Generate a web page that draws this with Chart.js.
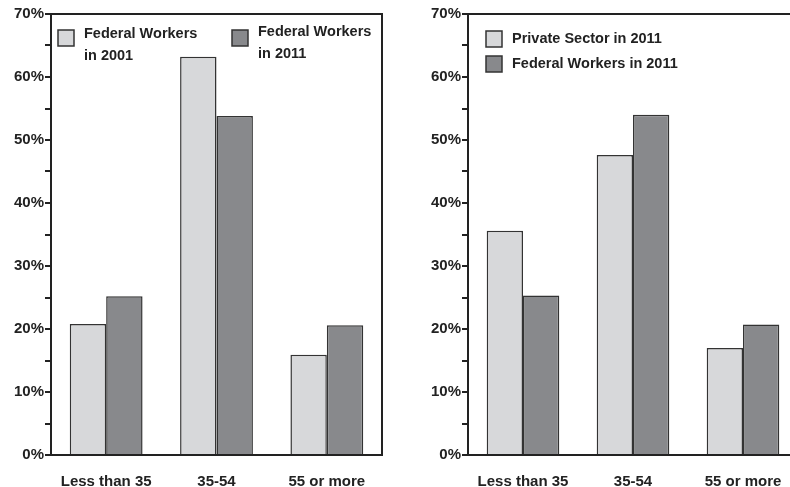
<!DOCTYPE html>
<html>
<head>
<meta charset="utf-8">
<script src="https://cdn.jsdelivr.net/npm/chart.js@4/dist/chart.umd.min.js"></script>
<style>
  html, body { margin: 0; padding: 0; background: #fff; overflow: hidden; }
  #wrap { position: relative; width: 790px; height: 487px; overflow: hidden; }
  #leftBox { position: absolute; left: 0; top: 0; }
  #rightBox { position: absolute; left: 400px; top: 0; }
</style>
</head>
<body>
<div id="wrap">
  <div id="leftBox"><canvas id="leftChart" width="395" height="487"></canvas></div>
  <div id="rightBox"><canvas id="rightChart" width="410" height="487"></canvas></div>
</div>
<script>
// data
const categories = ['Less than 35', '35-54', '55 or more'];
const yTicks = [0, 10, 20, 30, 40, 50, 60, 70];

const leftNames = ['Federal Workers in 2001', 'Federal Workers in 2011'];
const federal2001 = [20.8, 63.2, 15.9];
const federal2011 = [25.2, 53.8, 20.6];

const rightNames = ['Private Sector in 2011', 'Federal Workers in 2011'];
const private2011 = [35.6, 47.6, 17.0];
const federal2011b = [25.3, 54.0, 20.7];

const LIGHT = '#d7d8da', DARK = '#88898c', INK = '#222';
const FONT = '"Liberation Sans", Arial, sans-serif';

// frame lines (top / right) around the plot
const framePlugin = {
  id: 'frame',
  afterDraw(chart, args, opts){
    const { ctx, chartArea: a } = chart;
    ctx.save();
    ctx.strokeStyle = INK; ctx.lineWidth = 2;
    ctx.beginPath();
    ctx.moveTo(a.left, a.top); ctx.lineTo(opts.right ? a.right : chart.width, a.top);
    if(opts.right){ ctx.lineTo(a.right, a.bottom); }
    ctx.stroke();
    ctx.restore();
  }
};

// legend drawn inside the plot
const boxLegend = {
  id: 'boxLegend',
  afterDraw(chart, args, opts){
    const { ctx, chartArea: a } = chart;
    ctx.save();
    ctx.font = 'bold 14.5px ' + FONT;
    ctx.textBaseline = 'middle';
    chart.data.datasets.forEach((ds, i) => {
      const it = opts.items[i];
      const bx = a.left + it.x, by = a.top + it.y;
      ctx.fillStyle = ds.backgroundColor;
      ctx.fillRect(bx, by, 16, 16);
      ctx.strokeStyle = '#333'; ctx.lineWidth = 1.5;
      ctx.strokeRect(bx, by, 16, 16);
      const lines = opts.wrap ? ds.label.split(/ (?=in )/) : [ds.label];
      ctx.fillStyle = INK;
      lines.forEach((t, k) => ctx.fillText(t, bx + 26, by + it.dy + k * 22));
    });
    ctx.restore();
  }
};

function makeChart(id, names, s1, s2, yWidth, padRight, legendOpts, frameRight){
  return new Chart(document.getElementById(id), {
    type: 'bar',
    data: {
      labels: categories,
      datasets: [
        { label: names[0], data: s1, backgroundColor: LIGHT, borderColor: '#333', borderWidth: 1.5 },
        { label: names[1], data: s2, backgroundColor: DARK, borderColor: '#333', borderWidth: 1.5 }
      ]
    },
    options: {
      responsive: false,
      animation: false,
      events: [],
      layout: { padding: { top: 14, right: padRight, left: 0, bottom: 0 } },
      datasets: { bar: { categoryPercentage: 0.66, barPercentage: 1.0 } },
      plugins: {
        legend: { display: false },
        tooltip: { enabled: false },
        frame: { right: frameRight },
        boxLegend: legendOpts
      },
      scales: {
        x: {
          grid: { display: false },
          border: { display: true, color: INK, width: 2 },
          ticks: { color: INK, padding: 10, font: { family: FONT, size: 15, weight: 'bold' } },
          afterFit: s => { s.height = 32; }
        },
        y: {
          min: 0, max: 70,
          ticks: {
            stepSize: 5, padding: 1, color: INK,
            font: { family: FONT, size: 15, weight: 'bold' },
            callback: v => yTicks.includes(v) ? v + '%' : ''
          },
          grid: { drawOnChartArea: false, drawTicks: true, tickLength: 6, color: INK, lineWidth: 2 },
          border: { color: INK, width: 2 },
          afterFit: s => { s.width = yWidth; }
        }
      }
    },
    plugins: [framePlugin, boxLegend]
  });
}

makeChart('leftChart', leftNames, federal2001, federal2011, 51, 13,
  { wrap: true, items: [ { x: 7, y: 16, dy: 4 }, { x: 181, y: 16, dy: 2 } ] }, true);
makeChart('rightChart', rightNames, private2011, federal2011b, 68, 12,
  { wrap: false, items: [ { x: 18, y: 17, dy: 8 }, { x: 18, y: 42, dy: 8 } ] }, false);
</script>
</body>
</html>
